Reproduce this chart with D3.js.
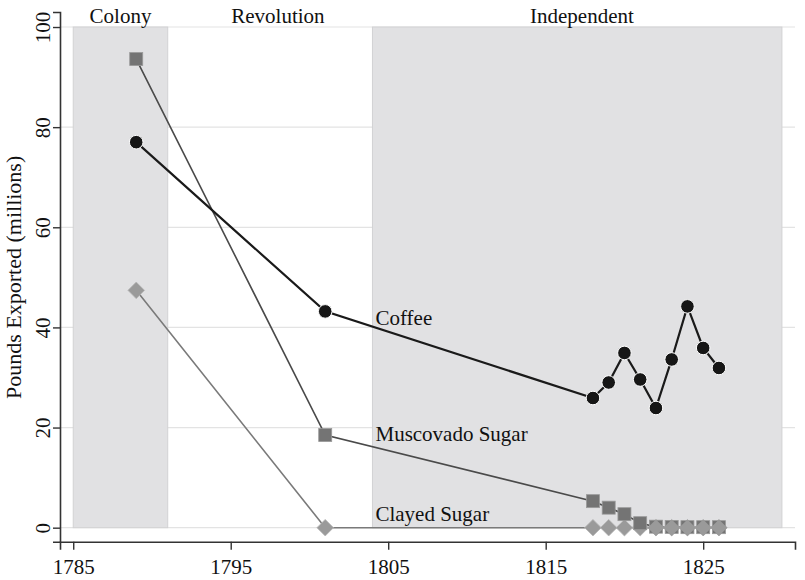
<!DOCTYPE html>
<html><head><meta charset="utf-8">
<script src="https://cdn.jsdelivr.net/npm/d3@7"></script>
<style>html,body{margin:0;padding:0;background:#fff}svg{display:block}text{font-family:"Liberation Serif","Times New Roman",serif;fill:#111}</style>
</head><body><svg id="c" width="805" height="580"></svg>
<script>
const coffeeYears = [1789, 1801, 1818, 1819, 1820, 1821, 1822, 1823, 1824, 1825, 1826];
const coffee      = [77.0, 43.2, 25.9, 29.0, 34.9, 29.6, 23.9, 33.6, 44.2, 35.9, 31.9];
const sugarYears  = [1789, 1801, 1818, 1819, 1820, 1821, 1822, 1823, 1824, 1825, 1826];
const muscovado   = [93.6, 18.5, 5.3, 4.0, 2.7, 0.9, 0.2, 0.15, 0.1, 0.1, 0.1];
const clayed      = [47.4, 0, 0, 0, 0, 0, 0, 0, 0, 0, 0];
const periodNames = ["Colony", "Revolution", "Independent"];
const periodStart = [1785, 1791, 1804];
const periodEnd   = [1791, 1804, 1830];
const periodShaded = [true, false, true];
const periodLabelAt = [1788, 1798, 1817.3];
const xTicks = [1785, 1795, 1805, 1815, 1825];
const yTicks = [0, 20, 40, 60, 80, 100];
const seriesNames = ["Coffee", "Muscovado Sugar", "Clayed Sugar"];

const FS = 21;
const svg = d3.select("#c");
const x = d3.scaleLinear().domain([1784.16, 1830.83]).range([60, 795]);
const y = d3.scaleLinear().domain([-2.8, 103]).range([541.7, 12]);

// gridlines
svg.append("g").selectAll("line").data(yTicks).join("line")
  .attr("x1", 61).attr("x2", 795)
  .attr("y1", d => y(d)).attr("y2", d => y(d))
  .attr("stroke", "#e3e3e3").attr("stroke-width", 1.2);

// period bands
const periods = periodNames.map((n, i) => ({n, s: periodStart[i], e: periodEnd[i], sh: periodShaded[i], lx: periodLabelAt[i]}));
svg.append("g").selectAll("rect").data(periods.filter(p => p.sh)).join("rect")
  .attr("x", p => x(p.s)).attr("width", p => x(p.e) - x(p.s))
  .attr("y", y(100)).attr("height", y(0) - y(100))
  .attr("fill", "#e1e1e3").attr("stroke", "#d2d2d4").attr("stroke-width", 1);

svg.append("g").selectAll("text").data(periods).join("text")
  .attr("x", p => x(p.lx)).attr("y", 23)
  .attr("text-anchor", "middle").attr("font-size", FS).text(p => p.n);

const line = d3.line().x(d => x(d[0])).y(d => y(d[1]));
const cData = coffeeYears.map((t, i) => [t, coffee[i]]);
const mData = sugarYears.map((t, i) => [t, muscovado[i]]);
const clData = sugarYears.map((t, i) => [t, clayed[i]]);

svg.append("path").datum(clData).attr("d", line).attr("fill", "none").attr("stroke", "#7a7a7a").attr("stroke-width", 1.6);
svg.append("path").datum(mData).attr("d", line).attr("fill", "none").attr("stroke", "#4a4a4a").attr("stroke-width", 1.6);
svg.append("path").datum(cData).attr("d", line).attr("fill", "none").attr("stroke", "#1a1a1a").attr("stroke-width", 2.2);

const R = 8.3;
const diamond = `M0,${-R}L${R},0L0,${R}L${-R},0Z`;
svg.append("g").selectAll("path").data(clData).join("path")
  .attr("d", diamond)
  .attr("transform", d => `translate(${x(d[0])},${y(d[1])})`)
  .attr("fill", "#9a9a9a").attr("stroke", "#b8b8b8").attr("stroke-width", 0.8);
svg.append("g").selectAll("rect").data(mData).join("rect")
  .attr("x", d => x(d[0]) - 6.5).attr("y", d => y(d[1]) - 6.5)
  .attr("width", 13).attr("height", 13)
  .attr("fill", "#747474").attr("stroke", "#9a9a9a").attr("stroke-width", 0.8);
svg.append("g").selectAll("path").data(clData.filter((d, i) => i >= 6)).join("path")
  .attr("d", diamond)
  .attr("transform", d => `translate(${x(d[0])},${y(d[1])})`)
  .attr("fill", "#9a9a9a").attr("stroke", "none");
svg.append("g").selectAll("circle").data(cData).join("circle")
  .attr("cx", d => x(d[0])).attr("cy", d => y(d[1])).attr("r", 6.8)
  .attr("fill", "#161616").attr("stroke", "#ffffff").attr("stroke-width", 1);

const labelVals = [coffee[1], muscovado[1], clayed[1]];
const labelDyPx = [13.5, 5.5, -7];
svg.append("g").selectAll("text").data(seriesNames).join("text")
  .attr("x", x(1804) + 3)
  .attr("y", (d, i) => y(labelVals[i]) + labelDyPx[i])
  .attr("font-size", FS).text(d => d);

const xa = svg.append("g").attr("transform", `translate(0,${y(-2.8)})`)
  .call(d3.axisBottom(x).tickValues(xTicks).tickFormat(d3.format("d")).tickSizeOuter(0).tickSize(8).tickPadding(6));
const ya = svg.append("g").attr("transform", `translate(${x(1784.16)},0)`)
  .call(d3.axisLeft(y).tickValues(yTicks).tickSizeOuter(0).tickSize(7).tickPadding(6));
[xa, ya].forEach(a => {
  a.select(".domain").attr("stroke", "#333").attr("stroke-width", 1.6);
  a.selectAll(".tick line").attr("stroke", "#333").attr("stroke-width", 1.4);
  a.selectAll(".tick text").attr("font-size", FS).attr("font-family", "Liberation Serif").attr("fill", "#111");
});
xa.selectAll(".tick text").attr("dy", "0.85em");
ya.selectAll(".tick text")
  .attr("text-anchor", "middle").attr("x", null).attr("dy", null)
  .attr("transform", "translate(-11,0) rotate(-90)")
  .attr("y", 0).attr("dy", "0.05em");

svg.append("text").attr("transform", `translate(21,${(y(0)+y(100))/2}) rotate(-90)`)
  .attr("text-anchor", "middle").attr("font-size", 22).text("Pounds Exported (millions)");
</script></body></html>
